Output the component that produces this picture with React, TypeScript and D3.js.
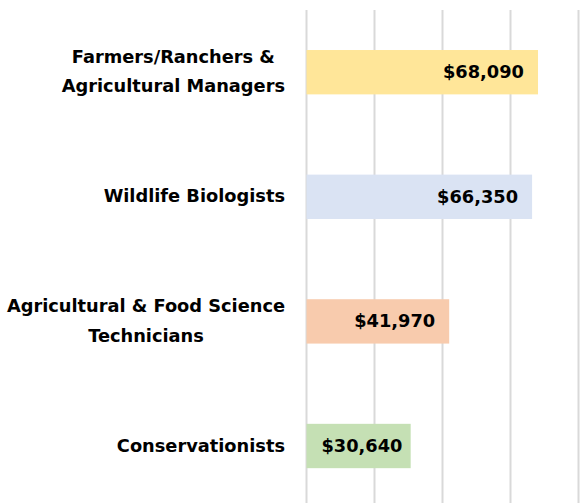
import React, { useEffect, useRef } from "react";
import * as d3 from "d3";

const categories = [
  "Farmers/Ranchers &\nAgricultural Managers",
  "Wildlife Biologists",
  "Agricultural & Food Science\nTechnicians",
  "Conservationists",
];
const salaries = [68090, 66350, 41970, 30640];
const gridTicks = [0, 20000, 40000, 60000, 80000];
const barColors = ["#FFE699", "#DAE3F3", "#F8CBAD", "#C5E0B4"];

const W = 581;
const H = 503;
const FONT = "'DejaVu Sans', sans-serif";
const FS = 17.8;

export default function App() {
  const ref = useRef<SVGSVGElement>(null);

  useEffect(() => {
    const svg = d3.select(ref.current);
    svg.selectAll("*").remove();

    const x = d3.scaleLinear().domain([0, 80000]).range([306.5, 578.5]);
    const y = d3
      .scaleBand<number>()
      .domain(d3.range(categories.length))
      .range([9.9, 508.3])
      .paddingInner(0.644)
      .paddingOuter(0.322);

    // gridlines
    svg
      .append("g")
      .selectAll("line")
      .data(gridTicks)
      .join("line")
      .attr("x1", (d) => x(d))
      .attr("x2", (d) => x(d))
      .attr("y1", 10)
      .attr("y2", 510)
      .attr("stroke", "#D9D9D9")
      .attr("stroke-width", 2);

    // bars
    svg
      .append("g")
      .selectAll("rect")
      .data(salaries)
      .join("rect")
      .attr("x", x(0))
      .attr("y", (_, i) => y(i)!)
      .attr("width", (d) => x(d) - x(0))
      .attr("height", y.bandwidth())
      .attr("fill", (_, i) => barColors[i]);

    // value labels
    const fmt = d3.format("$,");
    const vl = svg
      .append("g")
      .selectAll("text")
      .data(salaries)
      .join("text")
      .attr("font-family", FONT)
      .attr("font-weight", "bold")
      .attr("font-size", FS)
      .attr("fill", "#000")
      .attr("text-anchor", "end")
      .attr("y", (_, i) => y(i)! + y.bandwidth() / 2 + 5.7)
      .text((d) => fmt(d));
    vl.each(function (d) {
      const el = this as SVGTextElement;
      const w = el.getComputedTextLength();
      const end = Math.max(x(d) - 14, x(0) + 15 + w);
      d3.select(el).attr("x", end);
    });

    // category labels
    const right = 285;
    const lineH = 29.3;
    categories.forEach((cat, i) => {
      const lines = cat.split("\n");
      const cy = y(i)! + y.bandwidth() / 2;
      const g = svg.append("g");
      const texts = lines.map((ln, j) =>
        g
          .append("text")
          .attr("font-family", FONT)
          .attr("font-weight", "bold")
          .attr("font-size", FS)
          .attr("fill", "#000")
          .attr("text-anchor", "middle")
          .attr("y", cy + 5.5 + (j - (lines.length - 1) / 2) * lineH)
          .text(ln)
      );
      const maxW = d3.max(texts, (t) => (t.node() as SVGTextElement).getComputedTextLength()) || 0;
      texts.forEach((t) => t.attr("x", right - maxW / 2));
    });
  }, []);

  return (
    <div style={{ position: "fixed", left: 0, top: 0 }}>
      <svg ref={ref} width={W} height={H} style={{ display: "block", background: "#fff" }} />
    </div>
  );
}
